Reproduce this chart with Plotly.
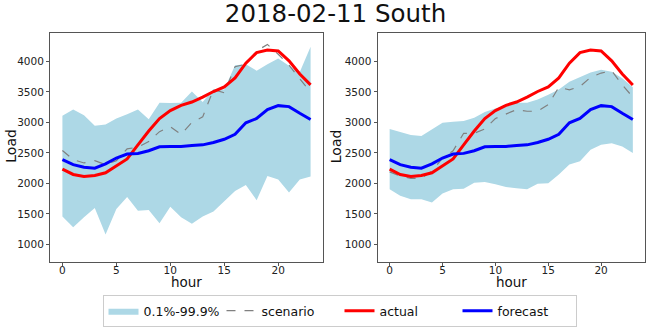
import plotly.graph_objects as go

hours = list(range(24))

forecast = [2390, 2308, 2265, 2249, 2319, 2416, 2481, 2492, 2535, 2600, 2605, 2605,
            2622, 2632, 2670, 2724, 2805, 2995, 3065, 3211, 3276, 3260, 3151, 3049]
actual = [2233, 2146, 2114, 2130, 2173, 2281, 2400, 2632, 2859, 3065, 3195, 3281,
          3335, 3416, 3508, 3584, 3730, 3973, 4146, 4189, 4173, 4011, 3795, 3616]

left_scenario = [2540, 2389, 2335, 2373, 2308, 2373, 2567, 2594, 2686, 2849, 2930, 2805,
                 3000, 3092, 3541, 3486, 3914, 3957, 4173, 4281, 4119, 3941, 3714, 3497]
left_upper = [3108, 3211, 3119, 2946, 2968, 3065, 3135, 3211, 3054, 3324, 3319, 3324,
              3508, 3335, 3551, 3541, 3941, 3957, 3849, 3957, 4049, 3930, 3830, 4243]
left_lower = [1454, 1281, 1443, 1595, 1162, 1578, 1778, 1551, 1562, 1346, 1616, 1443,
              1335, 1454, 1540, 1713, 1876, 1973, 1724, 2119, 2065, 1849, 2065, 2114]

right_scenario = [2189, 2119, 2081, 2081, 2200, 2416, 2535, 2822, 2822, 2892, 3065, 3135,
                  3211, 3184, 3184, 3292, 3578, 3535, 3589, 3741, 3811, 3849, 3616, 3416]
right_upper = [2892, 2849, 2795, 2778, 2892, 2995, 3011, 3022, 3076, 3173, 3227, 3281,
               3324, 3324, 3378, 3454, 3541, 3670, 3741, 3822, 3865, 3832, 3724, 3578]
right_lower = [1903, 1795, 1741, 1741, 1686, 1832, 1903, 1913, 2011, 2022, 1984, 1941,
               1919, 1903, 1995, 2000, 2146, 2308, 2362, 2551, 2632, 2659, 2605, 2497]

x_ticks = [0, 5, 10, 15, 20]
y_ticks = [1000, 1500, 2000, 2500, 3000, 3500, 4000]

W, H = 654, 327

fig = go.Figure()

panels = [
    ("x", "y", left_lower, left_upper, left_scenario, True),
    ("x2", "y2", right_lower, right_upper, right_scenario, False),
]
for xa, ya, lo, up, sc, show in panels:
    fig.add_trace(go.Scatter(x=hours, y=lo, xaxis=xa, yaxis=ya, mode="lines",
                             line=dict(width=0, color="lightblue"), showlegend=False,
                             hoverinfo="skip"))
    fig.add_trace(go.Scatter(x=hours, y=up, xaxis=xa, yaxis=ya, mode="lines",
                             line=dict(width=0, color="lightblue"), fill="tonexty",
                             fillcolor="lightblue", name="0.1%-99.9%", showlegend=show))
    fig.add_trace(go.Scatter(x=hours, y=sc, xaxis=xa, yaxis=ya, mode="lines",
                             line=dict(width=1.2, color="gray", dash="dash"),
                             name="scenario", showlegend=show))
    fig.add_trace(go.Scatter(x=hours, y=actual, xaxis=xa, yaxis=ya, mode="lines",
                             line=dict(width=3, color="red"), name="actual",
                             showlegend=show))
    fig.add_trace(go.Scatter(x=hours, y=forecast, xaxis=xa, yaxis=ya, mode="lines",
                             line=dict(width=3, color="blue"), name="forecast",
                             showlegend=show))

axis_common = dict(showgrid=False, zeroline=False, showline=True, mirror=True,
                   linecolor="#555555", linewidth=1, ticks="outside", ticklen=3,
                   tickcolor="#555555", tickfont=dict(size=10.5, color="#222222"),
                   automargin=False)
xr = [-1.15, 24.15]
yr = [713, 4475]

dom_l = [50 / W, 323 / W]
dom_r = [377.5 / W, 645 / W]
dom_y = [1 - 265 / H, 1 - 33 / H]

annotations = []
for dom in (dom_l, dom_r):
    annotations.append(dict(text="hour", xref="paper", yref="paper",
                            x=(dom[0] + dom[1]) / 2, y=1 - 285 / H,
                            xanchor="center", yanchor="middle", showarrow=False,
                            font=dict(size=13.5, color="#111111")))
annotations.append(dict(text="Load", xref="paper", yref="paper", x=11.5 / W,
                        y=1 - 148 / H, textangle=-90, xanchor="center",
                        yanchor="middle", showarrow=False,
                        font=dict(size=14, color="#111111")))
annotations.append(dict(text="Load", xref="paper", yref="paper", x=336 / W,
                        y=1 - 148 / H, textangle=-90, xanchor="center",
                        yanchor="middle", showarrow=False,
                        font=dict(size=14, color="#111111")))

fig.update_layout(
    width=W, height=H,
    margin=dict(l=0, r=0, t=0, b=0),
    paper_bgcolor="white", plot_bgcolor="white",
    font=dict(family="DejaVu Sans", color="#111111"),
    title=dict(text="2018-02-11 South", x=335.5 / W, xanchor="center",
               y=1 - 13 / H, yanchor="middle",
               font=dict(size=24.5, color="#111111")),
    xaxis=dict(domain=dom_l, range=xr, tickvals=x_ticks, anchor="y",
               ticklabelstandoff=-4, **axis_common),
    yaxis=dict(domain=dom_y, range=yr, tickvals=y_ticks, anchor="x", **axis_common),
    xaxis2=dict(domain=dom_r, range=xr, tickvals=x_ticks, anchor="y2",
                ticklabelstandoff=-4, **axis_common),
    yaxis2=dict(domain=dom_y, range=yr, tickvals=y_ticks, anchor="x2", **axis_common),
    annotations=annotations,
    legend=dict(orientation="h", x=339.5 / W, xanchor="center", y=1 - 315 / H,
                yanchor="middle", bordercolor="#cccccc", borderwidth=1,
                font=dict(size=12.5), traceorder="normal", entrywidth=73,
                tracegroupgap=0),
    showlegend=True,
)

fig.write_html("out.html", config={"displayModeBar": False},
               post_script="document.body.style.margin='0';document.body.style.padding='0';")
